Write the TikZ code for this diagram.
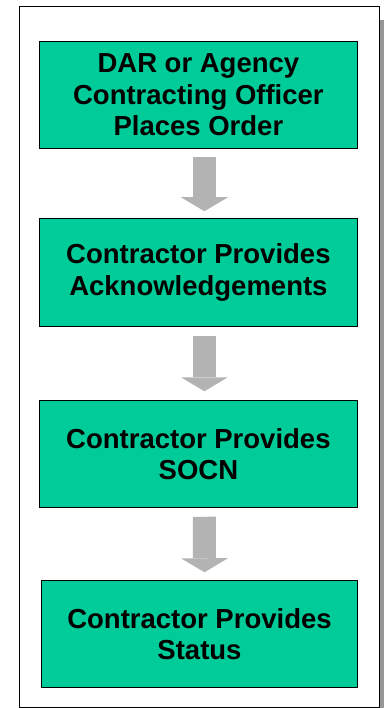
\documentclass[tikz,border=0pt]{standalone}
\usepackage{fontspec}
\setmainfont{Liberation Sans}
\usetikzlibrary{arrows.meta}

\definecolor{boxgreen}{RGB}{0,204,153}
\definecolor{arrowgray}{RGB}{179,179,179}
\definecolor{shadowgray}{RGB}{150,150,150}

\begin{document}
\begin{tikzpicture}[x=1pt, y=-1pt,
    stepbox/.style={draw=black, line width=1.5pt, fill=boxgreen, inner sep=0pt,
      minimum width=318pt, minimum height=107pt, align=center,
      font=\fontsize{27.5}{31.5}\selectfont\bfseries},
    flow/.style={draw=arrowgray, line width=23pt,
      -{Triangle[width=47pt, length=14pt, line width=0pt]}}]
        \useasboundingbox (0,0) rectangle (384,708);

        % Frame with its shadow
        \fill[shadowgray] (379.5,20) rectangle (384,708);
        \draw[line width=1pt] (19,7) rectangle (379,707);

        % Steps
        \node[stepbox] (order) at (198.4,95) {DAR or Agency\\Contracting Officer\\Places Order};
        \node[stepbox, minimum height=108pt] (ack) at (198.4,272.5) {Contractor Provides\\Acknowledgements};
        \node[stepbox] (socn) at (198.4,454) {Contractor Provides\\SOCN};
        \node[stepbox, minimum width=316pt] (status) at (199.5,634) {Contractor Provides\\Status};

        % Arrows between steps
        \draw[flow] ([xshift=6pt,yshift=-8pt]order.south) -- ([xshift=6pt,yshift=6.5pt]ack.north);
        \draw[flow] ([xshift=6pt,yshift=-8.5pt]ack.south) -- ([xshift=6pt,yshift=8.5pt]socn.north);
        \draw[flow] ([xshift=6pt,yshift=-8.5pt]socn.south) -- ([xshift=5pt,yshift=7.5pt]status.north);

      \end{tikzpicture}
\end{document}
